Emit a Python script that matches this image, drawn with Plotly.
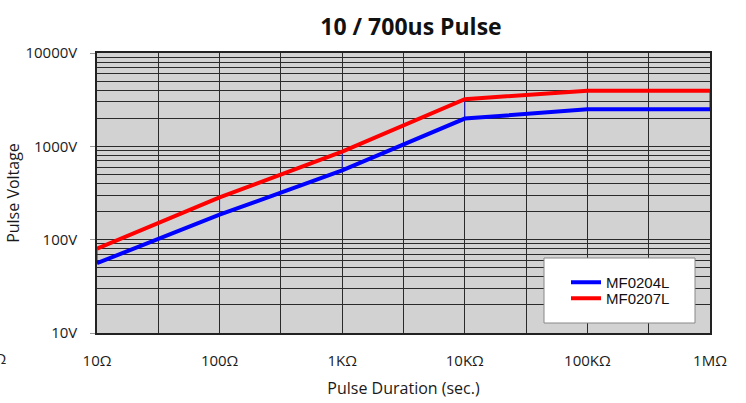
import plotly.graph_objects as go

# Data
resistance = [10, 100, 1000, 10000, 100000, 1000000]
mf0204l = [56, 185, 553, 1985, 2490, 2490]
mf0207l = [80, 284, 877, 3200, 3950, 3950]

x_tickvals = [10, 31.62, 100, 316.2, 1000, 3162, 10000, 31620, 100000, 316200, 1000000]
x_ticktext = ["10Ω", "", "100Ω", "", "1KΩ", "", "10KΩ", "", "100KΩ", "", "1MΩ"]
y_tickvals = [10, 100, 1000, 10000]
y_ticktext = ["10V", "100V", "1000V", "10000V"]

# thin connector lines between the series at each data point
hl_x, hl_y = [], []
for xv, a, b in zip(resistance, mf0204l, mf0207l):
    hl_x += [xv, xv, None]
    hl_y += [a, b, None]

fig = go.Figure()
fig.add_trace(go.Scatter(x=hl_x, y=hl_y, mode="lines", line=dict(color="#2020e0", width=1),
                         showlegend=False, hoverinfo="skip"))
fig.add_trace(go.Scatter(x=resistance, y=mf0204l, mode="lines", name="MF0204L",
                         line=dict(color="#0000ff", width=4), legend="legend"))
fig.add_trace(go.Scatter(x=resistance, y=mf0207l, mode="lines", name="MF0207L",
                         line=dict(color="#ff0000", width=4), legend="legend2"))

legend_common = dict(xanchor="left", yanchor="top", bgcolor="rgba(0,0,0,0)", borderwidth=0,
                     font=dict(family="Liberation Sans", size=15, color="#111111"), itemwidth=30)

fig.update_layout(
    width=746, height=403,
    margin=dict(l=97, r=36, t=53, b=70),
    paper_bgcolor="white",
    plot_bgcolor="#d2d2d2",
    title=dict(text="<b>10 / 700us Pulse</b>", x=411 / 746, xanchor="center",
               y=1 - 27 / 403, yanchor="middle",
               font=dict(family="Open Sans", size=23, color="#111111")),
    font=dict(family="Open Sans", color="#222222"),
    showlegend=True,
    legend=dict(x=(566 - 97) / 613, y=(333 - 266) / 280, **legend_common),
    legend2=dict(x=(566 - 97) / 613, y=(333 - 282) / 280, **legend_common),
    shapes=[dict(type="rect", xref="paper", yref="paper",
                 x0=(544 - 97) / 613, x1=(695 - 97) / 613,
                 y0=(333 - 323) / 280, y1=(333 - 258) / 280,
                 fillcolor="white", line=dict(color="#888888", width=1), layer="above")],
    annotations=[dict(text="1Ω", xref="paper", yref="paper", x=(9 - 97) / 613, y=-(358 - 333) / 280,
                      xanchor="right", yanchor="middle", showarrow=False,
                      font=dict(family="Open Sans", size=15, color="#222222"))],
)

fig.update_xaxes(
    type="log", range=[1, 6], automargin=False,
    tickvals=x_tickvals, ticktext=x_ticktext,
    showgrid=True, gridcolor="#2a2a2a", gridwidth=1,
    showline=True, linecolor="#222222", linewidth=1.5, mirror=True,
    ticks="", ticklabelstandoff=13,
    tickfont=dict(family="Open Sans", size=15, color="#1a1a1a"),
    title=dict(text="Pulse Duration (sec.)", font=dict(family="Open Sans", size=16, color="#1a1a1a"),
               standoff=14),
    zeroline=False,
)
fig.update_yaxes(
    type="log", range=[1, 4], automargin=False,
    tickvals=y_tickvals, ticktext=y_ticktext,
    showgrid=True, gridcolor="#2a2a2a", gridwidth=1,
    minor=dict(dtick="D1", showgrid=True, gridcolor="#2a2a2a", gridwidth=1, ticks=""),
    showline=True, linecolor="#222222", linewidth=1.5, mirror=True,
    ticks="outside", ticklen=5, tickcolor="#999999", ticklabelstandoff=10,
    tickfont=dict(family="Open Sans", size=15, color="#1a1a1a"),
    title=dict(text="Pulse Voltage", font=dict(family="Open Sans", size=16, color="#1a1a1a"),
               standoff=2),
    zeroline=False,
)

fig.write_html("out.html")
